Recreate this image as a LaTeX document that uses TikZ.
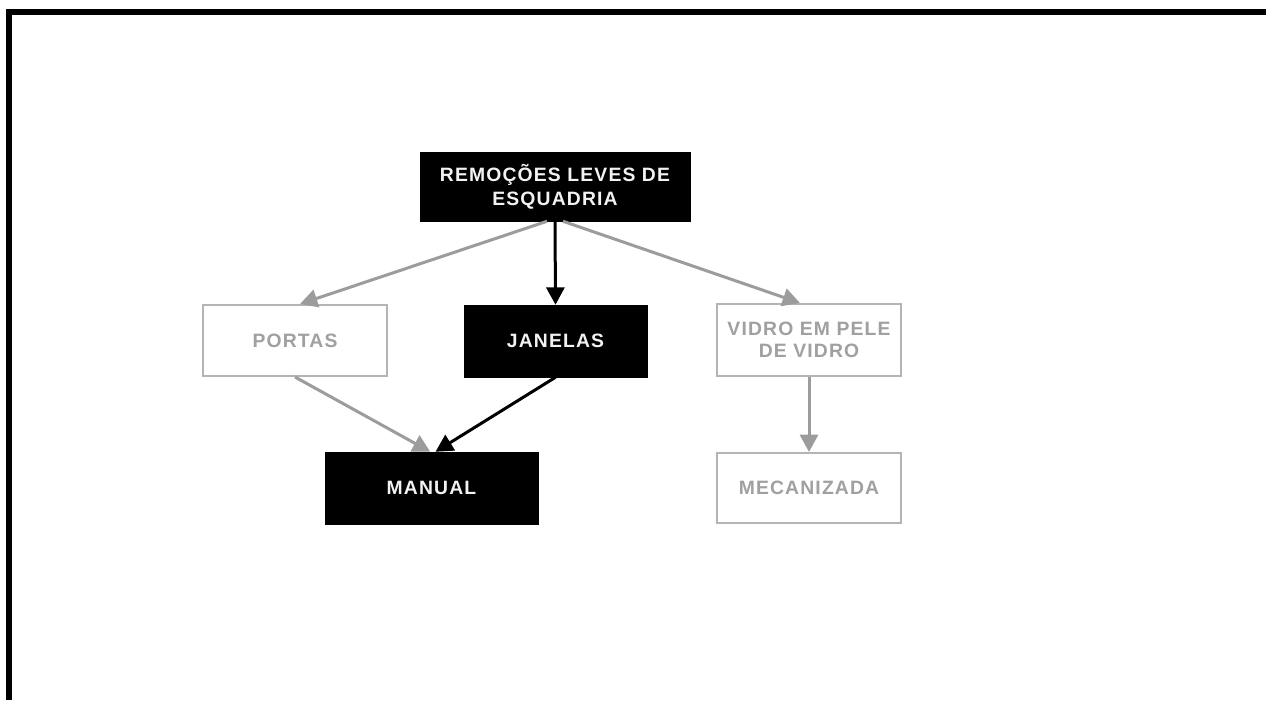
\documentclass[tikz,border=0pt]{standalone}
\usepackage{fontspec}
\setmainfont[LetterSpace=6]{Liberation Sans}
\usetikzlibrary{arrows.meta}
\definecolor{linegray}{HTML}{9C9C9C}
\definecolor{boxgray}{HTML}{B4B4B4}
\definecolor{textgray}{HTML}{A0A0A0}
\definecolor{whitetext}{HTML}{F2F2F2}
\tikzset{
  darkbox/.style={rectangle, fill=black, draw=black, text=whitetext, font=\fontsize{14.5}{18}\selectfont\bfseries, align=center, inner sep=0pt},
  lightbox/.style={rectangle, fill=white, draw=boxgray, line width=1.5pt, text=textgray, font=\fontsize{14.5}{17}\selectfont\bfseries, align=center, inner sep=0pt},
  blackarrow/.style={draw=black, line width=2.25pt, -{Triangle[length=13pt,width=13.5pt]}},
  grayarrow/.style={draw=linegray, line width=2.25pt, -{Triangle[length=13pt,width=13.5pt]}, color=linegray}
}
\begin{document}
\begin{tikzpicture}[x=0.75pt,y=-0.75pt]
\useasboundingbox (0,0) rectangle (1266,700);
\fill[white] (0,0) rectangle (1266,700);
\draw[line width=4.5pt, line join=miter] (9,700) -- (9,12) -- (1266,12);

\node[darkbox, minimum width=202.5pt, minimum height=51.75pt] (top) at (555,186.5) {REMOÇÕES LEVES DE\\ESQUADRIA};
\node[lightbox, minimum width=138pt, minimum height=53.25pt] (portas) at (295,340.5) {PORTAS};
\node[darkbox, minimum width=137.25pt, minimum height=54pt] (janelas) at (555.5,341) {JANELAS};
\node[darkbox, minimum width=159.75pt, minimum height=54pt] (manual) at (431.5,488) {MANUAL};
\node[lightbox, minimum width=138pt, minimum height=54pt] (vidro) at (809,340) {VIDRO EM PELE\\DE VIDRO};
\node[lightbox, minimum width=138pt, minimum height=52.5pt] (mecan) at (809,488) {MECANIZADA};

\draw[blackarrow] (top.south) -- (janelas.north);
\draw[grayarrow] ([xshift=-6pt]top.south) -- ([xshift=3.75pt]portas.north);
\draw[grayarrow] ([xshift=6pt]top.south) -- ([xshift=-6.75pt]vidro.north);
\draw[grayarrow] (portas.south) -- ([xshift=-1pt]manual.north);
\draw[blackarrow] (janelas.south) -- ([xshift=3pt]manual.north);
\draw[grayarrow] (vidro.south) -- (mecan.north);
\end{tikzpicture}
\end{document}
